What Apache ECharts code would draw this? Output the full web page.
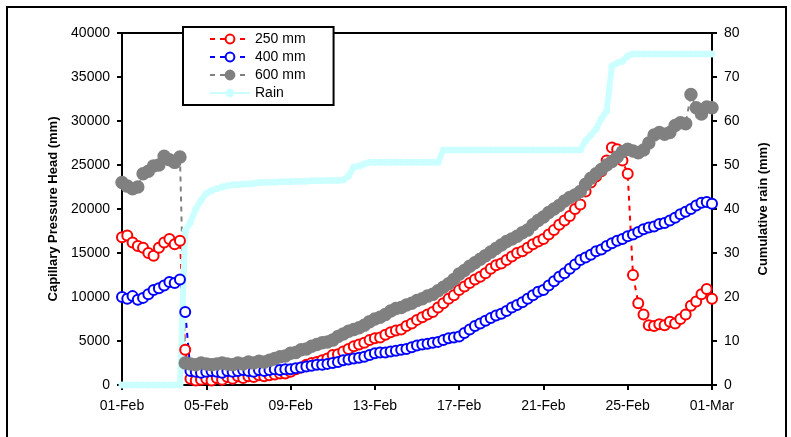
<!DOCTYPE html>
<html>
<head>
<meta charset="utf-8">
<script src="https://cdn.jsdelivr.net/npm/echarts@6/dist/echarts.min.js"></script>
<style>
  html, body { margin: 0; padding: 0; background: #fff; }
  #chart { width: 791px; height: 437px; }
</style>
</head>
<body>
<div id="chart"></div>
<script>
  // x tick labels, one every 4 days from 01-Feb
  const xTickLabels = ['01-Feb', '05-Feb', '09-Feb', '13-Feb', '17-Feb', '21-Feb', '25-Feb', '01-Mar']
  const stepDays = 0.25 // readings every 6 hours

  // capillary pressure head (mm), 4 readings per day, last one is 01-Mar
  const head250 = [
    16800, 17000, 16200, 15800,  15600, 15000, 14700, 15600,  16200, 16600, 16000, 16400,
    4000, 700, 500, 600,  700, 500, 800, 600,  900, 700, 1000, 800,  1000, 900, 1100, 1000,
    1100, 1200, 1300, 1300,  1500, 1800, 2000, 2300,  2500, 2600, 2800, 3000,
    3400, 3500, 3800, 4100,  4400, 4600, 4800, 5100,  5300, 5400, 5700, 6000,
    6200, 6300, 6700, 7000,  7400, 7700, 8000, 8300,  8800, 9300, 9800, 10200,
    10800, 11200, 11600, 12000,  12300, 12700, 13200, 13600,  13800, 14200, 14600, 15000,
    15200, 15600, 16000, 16300,  16600, 17100, 17600, 18200,  18700, 19200, 20000, 20500,
    22000, 23000, 23700, 24300,  25500, 27000, 26800, 25500,  24000, 12500, 9300, 8000,
    6800, 6700, 6900, 6800,  7200, 7000, 7500, 8000,  9000, 9500, 10300, 10900,
    9800
  ]
  const head400 = [
    10000, 9800, 10100, 9700,  9900, 10300, 10800, 11000,  11300, 11700, 11600, 12000,
    8300, 1600, 1500, 1400,  1500, 1600, 1500, 1400,  1600, 1500, 1600, 1700,  1600, 1500, 1700, 1600,
    1700, 1800, 1700, 1800,  1800, 1900, 2000, 2100,  2200, 2300, 2300, 2400,
    2500, 2600, 2800, 2900,  3000, 3100, 3200, 3400,  3600, 3700, 3700, 3800,
    3900, 4000, 4100, 4300,  4500, 4600, 4700, 4800,  4900, 5100, 5300, 5400,
    5500, 5900, 6300, 6700,  7000, 7300, 7600, 7900,  8100, 8400, 8800, 9100,
    9400, 9800, 10200, 10600,  10800, 11300, 11800, 12300,  12700, 13200, 13700, 14200,
    14500, 14800, 15200, 15400,  15800, 16100, 16400, 16600,  16900, 17100, 17400, 17700,
    17900, 18000, 18300, 18400,  18700, 19000, 19400, 19700,  20000, 20400, 20700, 20800,
    20600
  ]
  const head600 = [
    23000, 22600, 22300, 22500,  24000, 24300, 24900, 25000,  26000, 25600, 25300, 25900,
    2500, 2400, 2300, 2500,  2400, 2300, 2400, 2500,  2400, 2300, 2500, 2400,  2600, 2500, 2700, 2600,
    2800, 3000, 3200, 3300,  3600, 3700, 4000, 4100,  4400, 4600, 4800, 4900,
    5100, 5500, 5800, 6100,  6300, 6500, 6800, 7200,  7500, 7700, 8000, 8400,
    8700, 8800, 9100, 9300,  9600, 9800, 10100, 10300,  10700, 11100, 11500, 12000,
    12600, 13000, 13500, 13900,  14300, 14700, 15100, 15500,  15900, 16300, 16600, 16900,
    17300, 17600, 18200, 18700,  19100, 19600, 20000, 20400,  20900, 21300, 21600, 22000,
    22800, 23500, 24000, 24500,  25000, 25400, 25900, 26500,  26800, 26600, 26400, 26700,
    27500, 28400, 28700, 28500,  28700, 29500, 29800, 29700,  33000, 31500, 30800, 31600,
    31500
  ]
  // cumulative rain (mm)
  const rain = [
    0, 0, 0, 0,  0, 0, 0, 0,  0, 0, 0, 0,
    35, 37, 40, 42,  43.5, 44.2, 44.6, 45,  45.3, 45.5, 45.5, 45.6,  45.7, 45.8, 46, 46,
    46.1, 46.1, 46.2, 46.2,  46.2, 46.3, 46.3, 46.3,  46.4, 46.4, 46.4, 46.5,
    46.5, 46.5, 46.6, 47.5,  49.5, 49.8, 50.2, 50.6,  50.6, 50.6, 50.6, 50.6,
    50.6, 50.6, 50.6, 50.6,  50.6, 50.6, 50.6, 50.6,  50.6, 53.4, 53.4, 53.4,
    53.4, 53.4, 53.4, 53.4,  53.4, 53.4, 53.4, 53.4,  53.4, 53.4, 53.4, 53.4,
    53.4, 53.4, 53.4, 53.4,  53.4, 53.4, 53.4, 53.4,  53.4, 53.4, 53.4, 53.4,
    55.5, 56.8, 58.2, 60.5,  62.3, 72.5, 73.2, 73.6,  74.8, 75.2, 75.2, 75.2,
    75.2, 75.2, 75.2, 75.2,  75.2, 75.2, 75.2, 75.2,  75.2, 75.2, 75.2, 75.2,
    75.2
  ]

  const font = 'Liberation Sans, Arial, sans-serif'

  function toPairs(arr) {
    return arr.map((v, i) => [i * stepDays, v])
  }

  function headSeries(name, data, color, symbol) {
    return {
      name: name,
      type: 'line',
      yAxisIndex: 0,
      data: toPairs(data),
      symbol: symbol,
      symbolSize: 10,
      showSymbol: true,
      itemStyle: { color: color, borderColor: color, borderWidth: 3.5 },
      lineStyle: { color: color, width: 2, type: [5, 5] },
      emphasis: { disabled: true }
    }
  }

  const chart = echarts.init(document.getElementById('chart'))
  chart.setOption({
    animation: false,
    backgroundColor: '#fff',
    textStyle: { fontFamily: font },
    graphic: [{
      type: 'rect',
      shape: { x: 7, y: 7, width: 779, height: 460 },
      style: { fill: 'none', stroke: '#000', lineWidth: 2 },
      z: -1
    }],
    grid: {
      left: 122, right: 79, top: 33, bottom: 52,
      show: true, borderColor: '#000', borderWidth: 2
    },
    legend: {
      orient: 'vertical',
      left: 183, top: 27,
      padding: [5, 28, 5, 26],
      itemGap: 4,
      itemWidth: 40,
      itemHeight: 11,
      backgroundColor: '#fff',
      borderColor: '#000',
      borderWidth: 2,
      textStyle: { fontFamily: font, fontSize: 14, color: '#000' },
      data: ['250 mm', '400 mm', '600 mm', 'Rain']
    },
    xAxis: {
      type: 'value',
      min: 0, max: 28, interval: 4,
      axisLine: { lineStyle: { color: '#000', width: 2 } },
      axisTick: { length: 5, lineStyle: { color: '#000', width: 2 } },
      axisLabel: {
        color: '#000', fontSize: 14, margin: 14,
        formatter: v => xTickLabels[Math.round(v / 4)]
      },
      splitLine: { show: false }
    },
    yAxis: [{
      type: 'value',
      min: 0, max: 40000, interval: 5000,
      name: 'Capillary Pressure Head (mm)',
      nameLocation: 'middle',
      nameGap: 62,
      nameTextStyle: { color: '#000', fontSize: 13, fontWeight: 'bold' },
      axisLine: { show: true, lineStyle: { color: '#000', width: 2 } },
      axisTick: { show: true, length: 5, lineStyle: { color: '#000', width: 2 } },
      axisLabel: { color: '#000', fontSize: 14, margin: 12, formatter: v => String(v) },
      splitLine: { show: false }
    }, {
      type: 'value',
      min: 0, max: 80, interval: 10,
      position: 'right',
      name: 'Cumulative rain (mm)',
      nameLocation: 'middle',
      nameGap: 45,
      nameRotate: 90,
      nameTextStyle: { color: '#000', fontSize: 13, fontWeight: 'bold' },
      axisLine: { show: true, lineStyle: { color: '#000', width: 2 } },
      axisTick: { show: true, length: 5, lineStyle: { color: '#000', width: 2 } },
      axisLabel: { color: '#000', fontSize: 14, margin: 12 },
      splitLine: { show: false }
    }],
    series: [
      headSeries('250 mm', head250, '#ff0000', 'emptyCircle'),
      headSeries('400 mm', head400, '#0000ff', 'emptyCircle'),
      headSeries('600 mm', head600, '#808080', 'circle'),
      {
        name: 'Rain',
        type: 'line',
        yAxisIndex: 1,
        data: toPairs(rain),
        symbol: 'circle',
        symbolSize: 7,
        showSymbol: true,
        itemStyle: { color: '#ccffff' },
        lineStyle: { color: '#ccffff', width: 6 },
        emphasis: { disabled: true }
      }
    ]
  })
</script>
</body>
</html>
